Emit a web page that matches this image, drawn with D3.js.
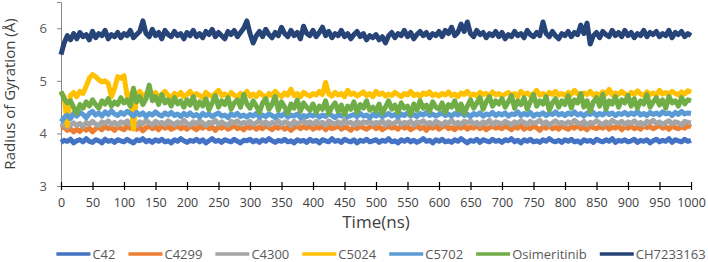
<!DOCTYPE html>
<html>
<head>
<meta charset="utf-8">
<script src="https://cdn.jsdelivr.net/npm/d3@7"></script>
<style>
  body { margin: 0; background: #fff; }
  text { font-family: "Open Sans", sans-serif; fill: #595959; }
</style>
</head>
<body>
<div id="chart"></div>
<script>
// time in ns (sampled every 5 ns)
const time = [0,5,10,15,20,25,30,35,40,45,50,55,60,65,70,75,80,85,90,95,
100,105,110,115,120,125,130,135,140,145,150,155,160,165,170,175,180,185,190,195,
200,205,210,215,220,225,230,235,240,245,250,255,260,265,270,275,280,285,290,295,
300,305,310,315,320,325,330,335,340,345,350,355,360,365,370,375,380,385,390,395,
400,405,410,415,420,425,430,435,440,445,450,455,460,465,470,475,480,485,490,495,
500,505,510,515,520,525,530,535,540,545,550,555,560,565,570,575,580,585,590,595,
600,605,610,615,620,625,630,635,640,645,650,655,660,665,670,675,680,685,690,695,
700,705,710,715,720,725,730,735,740,745,750,755,760,765,770,775,780,785,790,795,
800,805,810,815,820,825,830,835,840,845,850,855,860,865,870,875,880,885,890,895,
900,905,910,915,920,925,930,935,940,945,950,955,960,965,970,975,980,985,990,995,1000];

const c42 = [3.83,3.87,3.85,3.89,3.82,3.86,3.88,3.84,3.90,3.85,3.83,3.88,3.86,3.82,3.89,3.85,3.87,3.83,3.88,3.86,
3.84,3.89,3.85,3.82,3.88,3.86,3.90,3.84,3.87,3.83,3.88,3.85,3.89,3.84,3.86,3.82,3.88,3.85,3.90,3.86,
3.83,3.87,3.85,3.89,3.84,3.88,3.82,3.86,3.90,3.85,3.87,3.83,3.88,3.86,3.84,3.89,3.85,3.82,3.87,3.86,
3.89,3.84,3.87,3.83,3.88,3.85,3.90,3.86,3.83,3.87,3.85,3.89,3.84,3.86,3.82,3.88,3.85,3.87,3.83,3.89,
3.85,3.87,3.82,3.88,3.86,3.84,3.90,3.85,3.87,3.83,3.89,3.86,3.84,3.88,3.82,3.87,3.85,3.89,3.84,3.86,
3.88,3.83,3.87,3.85,3.90,3.84,3.86,3.82,3.88,3.85,3.89,3.84,3.87,3.83,3.86,3.90,3.85,3.87,3.82,3.88,
3.85,3.89,3.84,3.86,3.83,3.88,3.85,3.90,3.86,3.82,3.87,3.85,3.89,3.83,3.88,3.86,3.84,3.89,3.85,3.87,
3.83,3.88,3.86,3.90,3.84,3.87,3.82,3.88,3.85,3.89,3.84,3.86,3.83,3.88,3.85,3.90,3.86,3.84,3.87,3.83,
3.88,3.85,3.89,3.84,3.86,3.82,3.88,3.85,3.87,3.83,3.89,3.86,3.84,3.88,3.85,3.90,3.83,3.87,3.85,3.88,
3.84,3.86,3.89,3.83,3.87,3.85,3.88,3.82,3.86,3.89,3.84,3.87,3.85,3.90,3.83,3.88,3.86,3.84,3.89,3.85,3.87];

const c4299 = [4.10,4.13,4.06,4.09,4.03,4.08,4.04,4.11,4.06,4.10,4.03,4.09,4.12,4.07,4.14,4.09,4.11,4.06,4.13,4.10,
4.07,4.13,4.10,4.15,4.08,4.12,4.05,4.11,4.14,4.09,4.12,4.07,4.15,4.10,4.13,4.08,4.11,4.14,4.09,4.12,
4.08,4.14,4.11,4.07,4.13,4.10,4.15,4.09,4.12,4.06,4.13,4.10,4.14,4.08,4.11,4.15,4.09,4.12,4.07,4.13,
4.10,4.14,4.08,4.12,4.09,4.15,4.11,4.07,4.13,4.10,4.14,4.08,4.12,4.06,4.11,4.14,4.09,4.13,4.10,4.15,
4.08,4.12,4.10,4.14,4.07,4.13,4.09,4.11,4.15,4.08,4.12,4.10,4.06,4.13,4.09,4.14,4.11,4.08,4.12,4.15,
4.09,4.13,4.07,4.11,4.14,4.10,4.12,4.08,4.15,4.10,4.13,4.07,4.11,4.14,4.09,4.12,4.06,4.13,4.10,4.14,
4.08,4.12,4.15,4.09,4.11,4.07,4.13,4.10,4.14,4.08,4.12,4.10,4.15,4.09,4.13,4.07,4.11,4.14,4.10,4.12,
4.09,4.14,4.11,4.07,4.13,4.10,4.15,4.08,4.12,4.09,4.14,4.11,4.06,4.13,4.10,4.15,4.09,4.12,4.08,4.14,
4.11,4.08,4.13,4.10,4.15,4.09,4.12,4.07,4.14,4.11,4.09,4.13,4.10,4.15,4.08,4.12,4.10,4.14,4.07,4.13,
4.10,4.14,4.09,4.12,4.08,4.15,4.11,4.13,4.09,4.12,4.16,4.10,4.13,4.08,4.14,4.11,4.09,4.13,4.10,4.15,4.12];

const c4300 = [4.14,4.18,4.12,4.16,4.20,4.15,4.19,4.13,4.21,4.17,4.23,4.18,4.15,4.22,4.19,4.24,4.17,4.21,4.16,4.22,
4.19,4.24,4.17,4.21,4.15,4.22,4.18,4.25,4.20,4.16,4.23,4.19,4.21,4.17,4.24,4.20,4.16,4.22,4.18,4.25,
4.19,4.16,4.22,4.18,4.24,4.20,4.15,4.21,4.19,4.25,4.17,4.22,4.18,4.16,4.23,4.20,4.24,4.17,4.21,4.19,
4.23,4.17,4.20,4.25,4.18,4.22,4.16,4.21,4.19,4.24,4.17,4.22,4.20,4.15,4.23,4.18,4.21,4.25,4.19,4.22,
4.17,4.23,4.19,4.21,4.16,4.24,4.20,4.18,4.22,4.17,4.25,4.19,4.21,4.16,4.23,4.18,4.22,4.20,4.24,4.17,
4.21,4.19,4.24,4.16,4.22,4.18,4.20,4.25,4.17,4.21,4.19,4.23,4.16,4.22,4.20,4.24,4.18,4.21,4.17,4.23,
4.20,4.16,4.22,4.19,4.25,4.18,4.21,4.17,4.23,4.20,4.24,4.18,4.21,4.16,4.22,4.19,4.25,4.17,4.22,4.20,
4.18,4.23,4.20,4.16,4.22,4.19,4.24,4.21,4.17,4.23,4.19,4.21,4.25,4.18,4.22,4.16,4.20,4.24,4.19,4.21,
4.17,4.22,4.19,4.25,4.20,4.18,4.23,4.16,4.21,4.19,4.24,4.20,4.17,4.22,4.18,4.25,4.21,4.19,4.23,4.17,
4.22,4.19,4.24,4.18,4.21,4.16,4.23,4.20,4.25,4.19,4.22,4.17,4.21,4.24,4.18,4.22,4.20,4.16,4.23,4.21,4.20];

const c5024 = [4.78,4.70,4.15,4.72,4.78,4.70,4.80,4.76,4.90,5.05,5.12,5.08,5.02,4.98,5.00,4.95,4.70,4.85,5.08,5.05,
5.10,4.70,4.75,4.08,4.72,4.80,4.70,4.76,4.82,4.72,4.78,4.70,4.74,4.80,4.72,4.68,4.76,4.72,4.78,4.70,
4.74,4.80,4.70,4.76,4.72,4.68,4.78,4.73,4.70,4.76,4.82,4.72,4.75,4.70,4.78,4.73,4.69,4.76,4.72,4.80,
4.71,4.75,4.70,4.78,4.73,4.68,4.76,4.72,4.80,4.74,4.70,4.77,4.73,4.84,4.72,4.76,4.70,4.78,4.74,4.71,
4.76,4.73,4.80,4.74,4.97,4.75,4.71,4.78,4.73,4.76,4.70,4.82,4.74,4.77,4.71,4.75,4.79,4.72,4.76,4.70,
4.80,4.74,4.77,4.71,4.75,4.72,4.78,4.74,4.70,4.76,4.73,4.80,4.72,4.75,4.70,4.77,4.74,4.79,4.72,4.75,
4.71,4.76,4.73,4.79,4.72,4.75,4.70,4.77,4.74,4.80,4.72,4.75,4.71,4.78,4.74,4.76,4.72,4.79,4.73,4.76,
4.71,4.75,4.78,4.73,4.76,4.70,4.80,4.74,4.77,4.72,4.75,4.82,4.73,4.76,4.71,4.78,4.74,4.80,4.73,4.76,
4.72,4.78,4.74,4.82,4.75,4.71,4.77,4.74,4.80,4.73,4.76,4.72,4.79,4.75,4.84,4.73,4.77,4.74,4.80,4.75,
4.72,4.78,4.74,4.81,4.75,4.72,4.79,4.74,4.77,4.73,4.82,4.75,4.78,4.74,4.80,4.76,4.73,4.79,4.75,4.81,4.78];

const c5702 = [4.22,4.30,4.35,4.28,4.38,4.33,4.40,4.36,4.30,4.38,4.42,4.35,4.39,4.33,4.41,4.36,4.43,4.37,4.34,4.40,
4.36,4.42,4.38,4.33,4.40,4.35,4.39,4.32,4.38,4.35,4.41,4.36,4.33,4.39,4.35,4.40,4.34,4.37,4.32,4.38,
4.34,4.39,4.33,4.36,4.31,4.38,4.34,4.37,4.32,4.36,4.39,4.33,4.35,4.30,4.37,4.34,4.38,4.32,4.35,4.31,
4.36,4.33,4.38,4.31,4.35,4.32,4.37,4.34,4.30,4.36,4.33,4.38,4.31,4.35,4.33,4.37,4.30,4.34,4.32,4.36,
4.33,4.37,4.31,4.35,4.32,4.38,4.34,4.30,4.36,4.33,4.37,4.31,4.34,4.36,4.32,4.38,4.33,4.35,4.30,4.36,
4.33,4.37,4.32,4.35,4.38,4.33,4.36,4.31,4.37,4.34,4.39,4.33,4.36,4.32,4.38,4.35,4.40,4.34,4.37,4.33,
4.36,4.39,4.34,4.37,4.33,4.38,4.35,4.40,4.34,4.37,4.32,4.38,4.35,4.39,4.33,4.37,4.35,4.40,4.34,4.38,
4.35,4.39,4.33,4.37,4.36,4.41,4.34,4.38,4.35,4.40,4.33,4.37,4.35,4.39,4.34,4.38,4.36,4.41,4.35,4.38,
4.34,4.39,4.36,4.41,4.35,4.38,4.33,4.39,4.36,4.40,4.34,4.38,4.35,4.41,4.36,4.39,4.34,4.38,4.36,4.40,
4.35,4.39,4.36,4.42,4.35,4.38,4.34,4.40,4.36,4.39,4.35,4.41,4.37,4.39,4.34,4.40,4.36,4.42,4.37,4.39,4.38];

const osimeritinib = [4.80,4.66,4.58,4.62,4.50,4.38,4.55,4.48,4.60,4.52,4.64,4.55,4.48,4.62,4.56,4.66,4.52,4.60,4.55,4.68,
4.58,4.64,4.52,4.86,4.60,4.70,4.55,4.66,4.92,4.62,4.70,4.55,4.74,4.58,4.64,4.52,4.68,4.56,4.62,4.50,
4.64,4.54,4.70,4.48,4.60,4.52,4.66,4.45,4.58,4.72,4.50,4.62,4.55,4.68,4.46,4.58,4.64,4.50,4.74,4.56,
4.48,4.62,4.52,4.40,4.58,4.66,4.46,4.55,4.70,4.44,4.60,4.50,4.38,4.56,4.48,4.64,4.42,4.58,4.50,4.44,
4.56,4.40,4.52,4.46,4.62,4.38,4.50,4.58,4.42,4.54,4.36,4.52,4.46,4.60,4.40,4.55,4.48,4.62,4.44,4.50,
4.42,4.56,4.38,4.50,4.62,4.46,4.54,4.40,4.58,4.48,4.52,4.36,4.56,4.44,4.62,4.48,4.54,4.42,4.60,4.50,
4.46,4.58,4.40,4.55,4.50,4.62,4.44,4.56,4.38,4.52,4.64,4.48,4.58,4.68,4.46,4.60,4.70,4.52,4.62,4.56,
4.66,4.50,4.60,4.72,4.48,4.62,4.55,4.68,4.46,4.60,4.74,4.52,4.62,4.56,4.70,4.44,4.58,4.66,4.50,4.62,
4.55,4.72,4.48,4.64,4.58,4.76,4.50,4.62,4.42,4.60,4.68,4.52,4.74,4.46,4.62,4.56,4.70,4.50,4.64,4.58,
4.72,4.52,4.66,4.48,4.62,4.56,4.74,4.50,4.60,4.68,4.54,4.64,4.48,4.70,4.58,4.62,4.52,4.68,4.56,4.64,4.62];

const ch7233163 = [5.50,5.72,5.86,5.78,5.90,5.80,5.92,5.84,5.88,5.78,5.94,5.82,5.90,5.86,5.96,5.80,5.88,5.84,5.92,5.82,
5.90,5.86,5.96,5.82,5.88,5.94,6.14,5.90,5.84,5.98,5.86,5.92,5.80,5.96,5.88,5.84,5.94,5.86,5.90,5.80,
5.92,5.86,5.96,5.84,5.90,5.82,5.94,5.88,5.98,5.84,5.92,5.86,5.80,5.94,5.88,5.96,5.84,5.92,6.00,6.14,
5.90,5.72,5.86,5.94,5.84,5.98,5.88,5.82,5.92,5.86,6.02,5.90,5.84,5.96,5.86,5.92,5.80,6.04,5.90,5.86,
5.96,5.84,5.92,6.02,5.86,5.94,5.82,5.90,5.86,5.96,5.84,5.90,5.80,5.88,5.94,5.84,5.90,5.78,5.86,5.82,
5.88,5.78,5.84,5.72,5.86,5.92,5.82,5.90,5.86,5.96,5.84,5.92,5.80,5.88,5.94,5.86,5.92,5.82,5.90,5.86,
5.94,5.84,5.96,5.90,6.02,5.86,5.92,6.08,5.94,6.12,5.90,5.84,5.96,5.88,5.92,5.82,5.90,5.86,5.94,5.84,
5.92,5.80,5.88,5.84,5.94,5.86,5.90,5.82,5.96,5.88,5.84,5.92,5.86,6.12,5.90,5.84,5.94,5.86,5.80,5.90,
5.86,5.94,5.84,5.92,5.88,6.06,5.90,6.10,5.70,5.86,5.92,5.82,5.94,5.88,5.84,5.96,5.86,5.92,5.84,5.96,
5.86,5.92,5.82,5.90,5.86,5.96,5.84,5.92,5.88,5.94,5.84,5.90,5.86,5.96,5.82,5.92,5.88,5.94,5.84,5.90,5.86];

const seriesNames = ["C42", "C4299", "C4300", "C5024", "C5702", "Osimeritinib", "CH7233163"];
const seriesValues = [c42, c4299, c4300, c5024, c5702, osimeritinib, ch7233163];
const colors = ["#4472C4", "#ED7D31", "#A5A5A5", "#FFC000", "#5B9BD5", "#70AD47", "#264478"];
const xTicks = [0,50,100,150,200,250,300,350,400,450,500,550,600,650,700,750,800,850,900,950,1000];
const yTicks = [3, 4, 5, 6];

const W = 708, H = 262;
const margin = {top: 2, right: 17, bottom: 76, left: 61};
const width = W - margin.left - margin.right,
      height = H - margin.top - margin.bottom;

const svg = d3.select("#chart").append("svg")
    .attr("width", W)
    .attr("height", H);

const g = svg.append("g")
    .attr("transform", "translate(" + margin.left + "," + margin.top + ")");

const x = d3.scaleLinear().domain([0, 1000]).range([0, width]);
const y = d3.scaleLinear().domain([3, 6.5]).range([height, 0]);

// y axis (gray line, outside ticks)
const yAxis = g.append("g")
    .call(d3.axisLeft(y).tickValues(yTicks).tickSize(4).tickPadding(10).tickFormat(d3.format("d")));
yAxis.select(".domain").attr("stroke", "#868686");
yAxis.selectAll(".tick line").attr("stroke", "#868686");
yAxis.selectAll("text").attr("font-size", 13).style("fill", "#595959");

// lines
const line = d3.line()
    .x((d, i) => x(time[i]))
    .y(d => y(d));

g.append("g").selectAll("path")
    .data(seriesValues)
    .enter()
    .append("path")
    .attr("d", d => line(d))
    .attr("fill", "none")
    .attr("stroke", (d, i) => colors[i])
    .attr("stroke-width", 5)
    .attr("stroke-linejoin", "round");

// x axis (black, cross ticks)
const xAxis = g.append("g")
    .attr("transform", "translate(0," + height + ")")
    .call(d3.axisBottom(x).tickValues(xTicks).tickSizeInner(4).tickSizeOuter(0).tickPadding(8).tickFormat(d3.format("d")));
xAxis.select(".domain").attr("stroke", "#000").attr("stroke-width", 1.2);
xAxis.selectAll(".tick line").attr("y1", -4).attr("stroke", "#000").attr("stroke-width", 1.2);
xAxis.selectAll("text").attr("font-size", 12.5).style("fill", "#404040");

// axis titles
svg.append("text")
    .attr("x", margin.left + width / 2)
    .attr("y", 228)
    .attr("text-anchor", "middle")
    .attr("font-size", 17)
    .style("fill", "#404040")
    .text("Time(ns)");

svg.append("text")
    .attr("transform", "translate(15," + (margin.top + height / 2) + ") rotate(-90)")
    .attr("text-anchor", "middle")
    .attr("font-size", 15)
    .style("fill", "#404040")
    .text("Radius of Gyration (Å)");

// legend
const legend = svg.append("g");
let lx = 0;
seriesNames.forEach(function(name, i) {
    const item = legend.append("g").attr("transform", "translate(" + lx + ",0)");
    item.append("line")
        .attr("x1", 0).attr("x2", 34)
        .attr("y1", 0).attr("y2", 0)
        .attr("stroke", colors[i])
        .attr("stroke-width", 3.5);
    const t = item.append("text")
        .attr("x", 36)
        .attr("y", 4.5)
        .attr("font-size", 13)
        .style("fill", "#595959")
        .text(name);
    lx += 36 + t.node().getComputedTextLength() + 13;
});
const legendW = lx - 13;
legend.attr("transform", "translate(" + (381 - legendW / 2) + ",254)");
</script>
</body>
</html>
